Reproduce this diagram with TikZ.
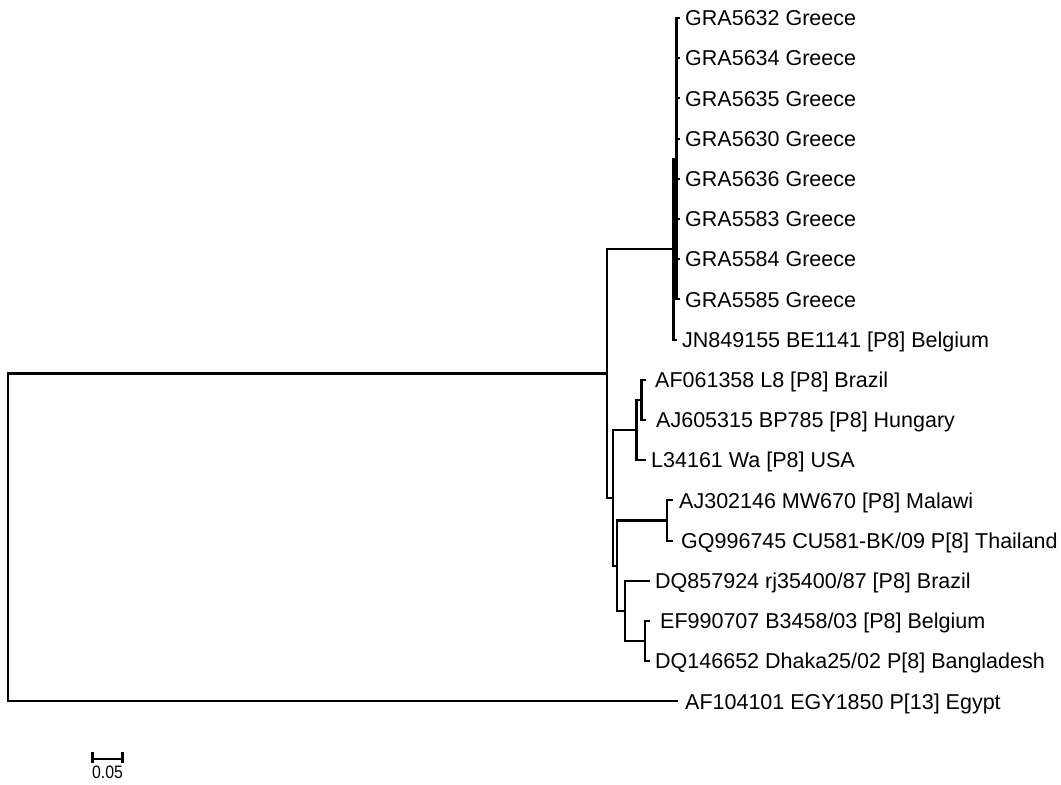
\documentclass[tikz,border=0pt]{standalone}
\usepackage{fontspec}
\setmainfont{Liberation Sans}
\begin{document}
\begin{tikzpicture}[x=1pt,y=-1pt,
  br/.style={line width=2.1pt},
  lbl/.style={anchor=base west, inner sep=0pt, yshift=-7.7pt, font=\fontsize{21.5}{24}\selectfont},
  sclbl/.style={anchor=north, inner sep=0pt, font=\fontsize{18}{19}\selectfont, xscale=0.88}]
\useasboundingbox (0,0) rectangle (1061,785);
% internal nodes
\coordinate (R) at (8,537.5);
\coordinate (A) at (607,373.5);
\coordinate (G) at (673.5,249.2);
\coordinate (X) at (676.5,158.7);
\coordinate (B) at (613,497.9);
\coordinate (C) at (636.5,430);
\coordinate (D) at (641.5,399.9);
\coordinate (E) at (617,565.7);
\coordinate (F) at (667,520.5);
\coordinate (H) at (625,611);
\coordinate (I) at (645,641.1);
% leaf ends
\foreach \i/\y in {0/18,1/58.2,2/98.4,3/138.6,4/178.8,5/219,6/259.2,7/299.4}
  \coordinate (p\i) at (680,\y);
\coordinate (p8) at (677,339.6);
\coordinate (p9) at (646,379.8);
\coordinate (p10) at (646,420);
\coordinate (p11) at (646,460.2);
\coordinate (p12) at (673,500.4);
\coordinate (p13) at (673,540.6);
\coordinate (p14) at (650,580.8);
\coordinate (p15) at (650,621);
\coordinate (p16) at (650,661.2);
\coordinate (p17) at (678,701.4);
% branches
\draw[br] (R) |- (A);
\draw[br] (R) |- (p17);
\draw[br] (A) |- (G);
\draw[br] (A) |- (B);
\draw[br] (G) |- (X);
\draw[br] (G) |- (p8);
\foreach \i in {0,...,7} \draw[br] (X) |- (p\i);
\draw[br] (B) |- (C);
\draw[br] (B) |- (E);
\draw[br] (C) |- (D);
\draw[br] (C) |- (p11);
\draw[br] (D) |- (p9);
\draw[br] (D) |- (p10);
\draw[br] (E) |- (F);
\draw[br] (E) |- (H);
\draw[br] (F) |- (p12);
\draw[br] (F) |- (p13);
\draw[br] (H) |- (p14);
\draw[br] (H) |- (I);
\draw[br] (I) |- (p15);
\draw[br] (I) |- (p16);
% labels
\node[lbl] (t0) at ([xshift=5pt]p0) {GRA5632 Greece};
\node[lbl] (t1) at ([xshift=5pt]p1) {GRA5634 Greece};
\node[lbl] (t2) at ([xshift=5pt]p2) {GRA5635 Greece};
\node[lbl] (t3) at ([xshift=5pt]p3) {GRA5630 Greece};
\node[lbl] (t4) at ([xshift=5pt]p4) {GRA5636 Greece};
\node[lbl] (t5) at ([xshift=5pt]p5) {GRA5583 Greece};
\node[lbl] (t6) at ([xshift=5pt]p6) {GRA5584 Greece};
\node[lbl] (t7) at ([xshift=5pt]p7) {GRA5585 Greece};
\node[lbl] (t8) at ([xshift=5pt]p8) {JN849155 BE1141 [P8] Belgium};
\node[lbl] (t9) at ([xshift=9pt]p9) {AF061358 L8 [P8] Brazil};
\node[lbl] (t10) at ([xshift=10pt]p10) {AJ605315 BP785 [P8] Hungary};
\node[lbl] (t11) at ([xshift=5pt]p11) {L34161 Wa [P8] USA};
\node[lbl] (t12) at ([xshift=6pt]p12) {AJ302146 MW670 [P8] Malawi};
\node[lbl] (t13) at ([xshift=8pt]p13) {GQ996745 CU581-BK/09 P[8] Thailand};
\node[lbl] (t14) at ([xshift=5pt]p14) {DQ857924 rj35400/87 [P8] Brazil};
\node[lbl] (t15) at ([xshift=10pt]p15) {EF990707 B3458/03 [P8] Belgium};
\node[lbl] (t16) at ([xshift=5pt]p16) {DQ146652 Dhaka25/02 P[8] Bangladesh};
\node[lbl] (t17) at ([xshift=7pt]p17) {AF104101 EGY1850 P[13] Egypt};
% scale bar
\coordinate (s1) at (92.5,759);
\coordinate (s2) at (122.5,759);
\draw[br] (s1) -- (s2);
\draw[br] ([yshift=7pt]s1) -- ([yshift=-4pt]s1);
\draw[br] ([yshift=7pt]s2) -- ([yshift=-4pt]s2);
\node[sclbl] (sl) at (107.5,766) {0.05};
\end{tikzpicture}
\end{document}
